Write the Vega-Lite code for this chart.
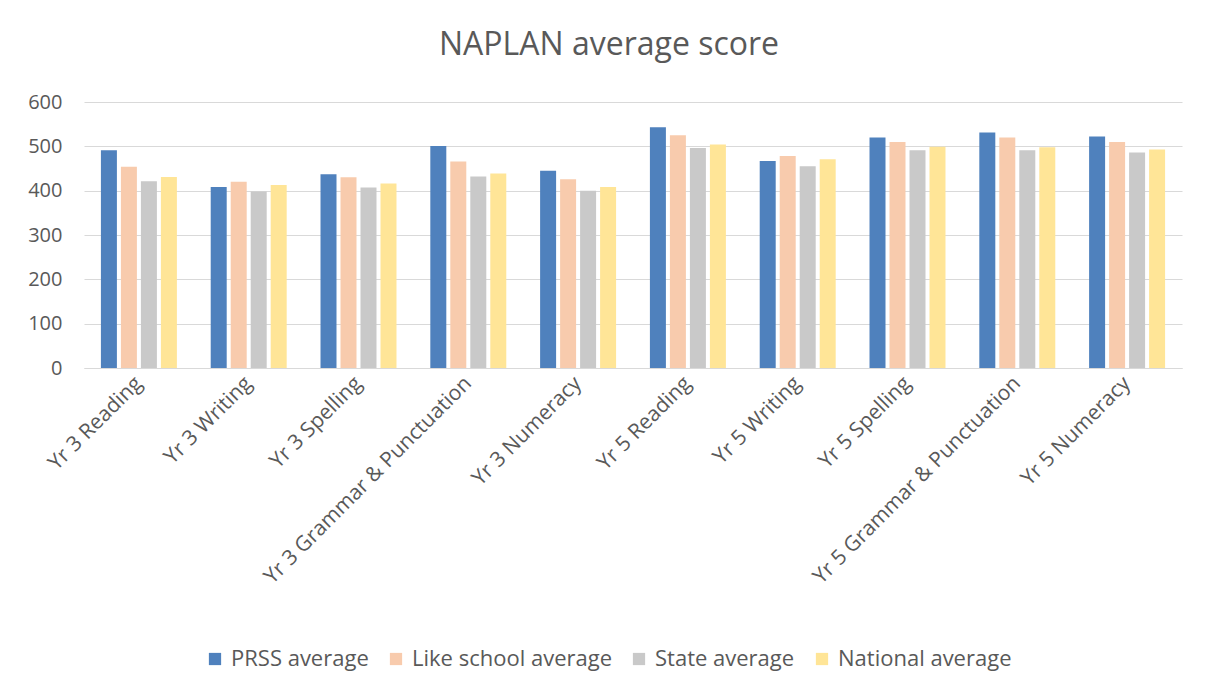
{
  "$schema": "https://vega.github.io/schema/vega-lite/v6.json",
  "width": 1098,
  "height": 266,
  "autosize": {"type": "none"},
  "padding": {"left": 84, "top": 102, "right": 28, "bottom": 313},
  "background": "white",
  "title": {
    "text": "NAPLAN average score",
    "fontSize": 32,
    "font": "Open Sans",
    "fontWeight": "normal",
    "color": "#595959",
    "anchor": "middle",
    "frame": "group",
    "dx": -24,
    "baseline": "bottom",
    "offset": -2
  },
  "data": {
    "values": [
      {"category": "Yr 3 Reading", "series": "PRSS average", "value": 491},
      {"category": "Yr 3 Reading", "series": "Like school average", "value": 454},
      {"category": "Yr 3 Reading", "series": "State average", "value": 421},
      {"category": "Yr 3 Reading", "series": "National average", "value": 431},
      {"category": "Yr 3 Writing", "series": "PRSS average", "value": 408},
      {"category": "Yr 3 Writing", "series": "Like school average", "value": 420},
      {"category": "Yr 3 Writing", "series": "State average", "value": 398},
      {"category": "Yr 3 Writing", "series": "National average", "value": 413},
      {"category": "Yr 3 Spelling", "series": "PRSS average", "value": 437},
      {"category": "Yr 3 Spelling", "series": "Like school average", "value": 430},
      {"category": "Yr 3 Spelling", "series": "State average", "value": 407},
      {"category": "Yr 3 Spelling", "series": "National average", "value": 416},
      {"category": "Yr 3 Grammar & Punctuation", "series": "PRSS average", "value": 501},
      {"category": "Yr 3 Grammar & Punctuation", "series": "Like school average", "value": 466},
      {"category": "Yr 3 Grammar & Punctuation", "series": "State average", "value": 432},
      {"category": "Yr 3 Grammar & Punctuation", "series": "National average", "value": 439},
      {"category": "Yr 3 Numeracy", "series": "PRSS average", "value": 445},
      {"category": "Yr 3 Numeracy", "series": "Like school average", "value": 426},
      {"category": "Yr 3 Numeracy", "series": "State average", "value": 400},
      {"category": "Yr 3 Numeracy", "series": "National average", "value": 408},
      {"category": "Yr 5 Reading", "series": "PRSS average", "value": 543},
      {"category": "Yr 5 Reading", "series": "Like school average", "value": 525},
      {"category": "Yr 5 Reading", "series": "State average", "value": 496},
      {"category": "Yr 5 Reading", "series": "National average", "value": 504},
      {"category": "Yr 5 Writing", "series": "PRSS average", "value": 467},
      {"category": "Yr 5 Writing", "series": "Like school average", "value": 478},
      {"category": "Yr 5 Writing", "series": "State average", "value": 455},
      {"category": "Yr 5 Writing", "series": "National average", "value": 471},
      {"category": "Yr 5 Spelling", "series": "PRSS average", "value": 520},
      {"category": "Yr 5 Spelling", "series": "Like school average", "value": 510},
      {"category": "Yr 5 Spelling", "series": "State average", "value": 491},
      {"category": "Yr 5 Spelling", "series": "National average", "value": 499},
      {"category": "Yr 5 Grammar & Punctuation", "series": "PRSS average", "value": 531},
      {"category": "Yr 5 Grammar & Punctuation", "series": "Like school average", "value": 520},
      {"category": "Yr 5 Grammar & Punctuation", "series": "State average", "value": 491},
      {"category": "Yr 5 Grammar & Punctuation", "series": "National average", "value": 498},
      {"category": "Yr 5 Numeracy", "series": "PRSS average", "value": 522},
      {"category": "Yr 5 Numeracy", "series": "Like school average", "value": 510},
      {"category": "Yr 5 Numeracy", "series": "State average", "value": 486},
      {"category": "Yr 5 Numeracy", "series": "National average", "value": 493}
    ]
  },
  "mark": {"type": "bar"},
  "encoding": {
    "x": {
      "field": "category",
      "type": "nominal",
      "sort": null,
      "scale": {"paddingInner": 0.308, "paddingOuter": 0.154},
      "axis": {
        "title": null,
        "labelAngle": -45,
        "labelAlign": "right",
        "labelBaseline": "middle",
        "labelFont": "Open Sans",
        "labelFontSize": 21,
        "labelColor": "#595959",
        "labelPadding": 12,
        "ticks": false,
        "domain": true,
        "domainColor": "#d9d9d9",
        "domainWidth": 1,
        "labelLimit": 400
      }
    },
    "xOffset": {
      "field": "series",
      "type": "nominal",
      "sort": ["PRSS average", "Like school average", "State average", "National average"],
      "scale": {"paddingInner": 0.2, "paddingOuter": 0}
    },
    "y": {
      "field": "value",
      "type": "quantitative",
      "scale": {"domain": [0, 600]},
      "axis": {
        "title": null,
        "values": [0, 100, 200, 300, 400, 500, 600],
        "labelFont": "Open Sans",
        "labelFontSize": 20,
        "labelColor": "#595959",
        "labelPadding": 22,
        "ticks": false,
        "domain": false,
        "grid": true,
        "gridColor": "#d9d9d9",
        "gridWidth": 1
      }
    },
    "color": {
      "field": "series",
      "type": "nominal",
      "scale": {
        "domain": ["PRSS average", "Like school average", "State average", "National average"],
        "range": ["#4f81bd", "#f8cbad", "#c9c9c9", "#ffe597"]
      },
      "legend": {
        "title": null,
        "orient": "none",
        "legendX": 120,
        "legendY": 546,
        "direction": "horizontal",
        "columns": 4,
        "columnPadding": 16,
        "symbolType": "square",
        "symbolSize": 150,
        "symbolStrokeWidth": 0,
        "labelFont": "Open Sans",
        "labelFontSize": 22,
        "labelColor": "#595959",
        "labelOffset": 5,
        "padding": 0,
        "labelLimit": 400
      }
    }
  },
  "config": {
    "view": {"stroke": null}
  }
}
